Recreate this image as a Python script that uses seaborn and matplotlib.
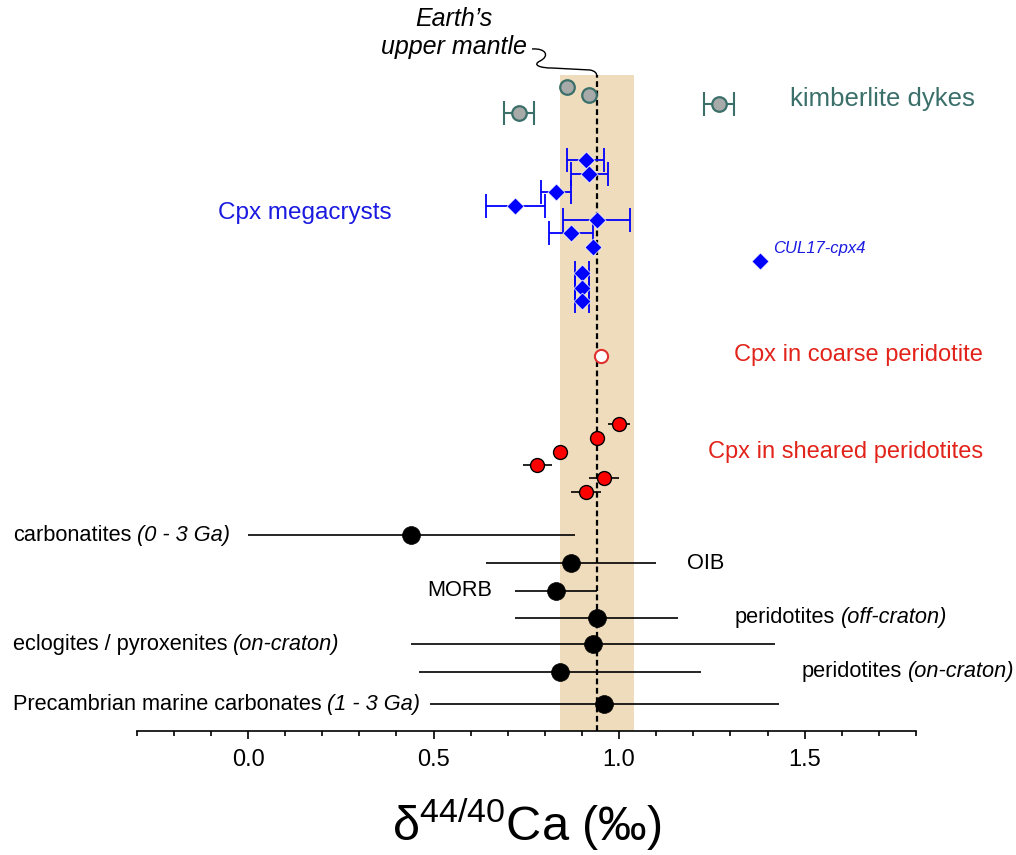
import numpy as np
import pandas as pd
import matplotlib
matplotlib.use("Agg")
import matplotlib.pyplot as plt
import seaborn as sns
from matplotlib.path import Path
from matplotlib.patches import PathPatch
from matplotlib.ticker import MultipleLocator

# ---------------- data ----------------
# vertical "row" position of each sample (arbitrary units, increasing downwards)
kimb_x = [0.86, 0.92, 0.73, 1.27]
kimb_err = [0.0, 0.0, 0.04, 0.04]
kimb_row = [8.67, 9.50, 11.33, 10.43]

cpx_x = [0.91, 0.92, 0.83, 0.72, 0.94, 0.87, 0.93, 0.90, 0.90, 0.90]
cpx_err = [0.05, 0.05, 0.04, 0.08, 0.09, 0.06, 0.0, 0.02, 0.02, 0.02]
cpx_row = [16.0, 17.4, 19.23, 20.57, 22.0, 23.33, 24.73, 27.33, 28.83, 30.07]

cul_x = [1.38]
cul_row = [26.1]

coarse_x = [0.95]
coarse_row = [35.6]

sheared_x = [1.00, 0.94, 0.84, 0.78, 0.96, 0.91]
sheared_err = [0.03, 0.0, 0.0, 0.04, 0.04, 0.04]
sheared_row = [42.43, 43.77, 45.17, 46.5, 47.83, 49.23]

lit_names = ["carbonatites", "OIB", "MORB", "peridotites", "eclogites / pyroxenites",
             "peridotites", "Precambrian marine carbonates"]
lit_notes = ["(0 - 3 Ga)", "", "", "(off-craton)", "(on-craton)", "(on-craton)", "(1 - 3 Ga)"]
lit_x = [0.44, 0.87, 0.83, 0.94, 0.93, 0.84, 0.96]
lit_err = [0.44, 0.23, 0.11, 0.22, 0.49, 0.38, 0.47]
lit_row = [53.5, 56.33, 59.07, 61.77, 64.43, 67.17, 70.4]

mantle_mean = 0.94
mantle_sd = 0.10

xticks = [0.0, 0.5, 1.0, 1.5]

# ---------------- style ----------------
sns.set_style("white")
plt.rcParams["font.family"] = ["Liberation Sans", "DejaVu Sans"]
plt.rcParams["mathtext.fontset"] = "custom"
plt.rcParams["mathtext.rm"] = "Liberation Sans"
plt.rcParams["mathtext.it"] = "Liberation Sans:italic"
plt.rcParams["text.color"] = "black"
plt.rcParams["axes.labelcolor"] = "black"
plt.rcParams["xtick.color"] = "black"

W, H = 1016, 855
fig = plt.figure(figsize=(W / 100, H / 100), dpi=100)
ax = fig.add_axes([136.7 / W, 1 - 731 / H, (916 - 136.7) / W, (731 - 75) / H])

TEAL = "#3a6f6a"
BLUE = "#0000ff"
BLUE_TXT = "#1a1ae0"
RED = "#ff0000"
RED_TXT = "#e2231a"

# mantle band + mean line
ax.axvspan(mantle_mean - mantle_sd, mantle_mean + mantle_sd, color="#eedcbc", lw=0, zorder=0)
ax.axvline(mantle_mean, color="black", lw=1.6, ls=(0, (2.6, 1.6)), zorder=1)


def draw_group(x, row, err, color, ecolor, marker, s, ec, lw, capsize, elw):
    df = pd.DataFrame({"x": x, "row": row, "err": err})
    e = df[df["err"] > 0]
    if len(e):
        ax.errorbar(e["x"], e["row"], xerr=e["err"], fmt="none", ecolor=ecolor,
                    elinewidth=elw, capsize=capsize, capthick=elw, zorder=3)
    sns.scatterplot(data=df, x="x", y="row", ax=ax, marker=marker, s=s, color=color,
                    edgecolor=ec, linewidth=lw, zorder=4, legend=False)


draw_group(kimb_x, kimb_row, kimb_err, "#a8aaa9", TEAL, "o", 110, TEAL, 1.6, 8.5, 1.5)
draw_group(cpx_x, cpx_row, cpx_err, BLUE, BLUE, "D", 75, "white", 0.5, 8.5, 1.3)
draw_group(cul_x, cul_row, [0.0], BLUE, BLUE, "D", 75, "white", 0.5, 0, 1.3)
draw_group(coarse_x, coarse_row, [0.0], "white", RED, "o", 90, "#e03030", 1.5, 0, 1.2)
draw_group(sheared_x, sheared_row, sheared_err, RED, "black", "o", 100, "black", 1.0, 0, 1.2)
draw_group(lit_x, lit_row, lit_err, "black", "black", "o", 165, "black", 0.5, 0, 1.2)

# group labels
ax.text(1.46, 9.9, "kimberlite dykes", color=TEAL, fontsize=18.5, ha="left", va="center")
ax.text(-0.082, 21.3, "Cpx megacrysts", color=BLUE_TXT, fontsize=17.5, ha="left", va="center")
ax.text(1.414, 24.9, "CUL17-cpx4", color=BLUE_TXT, fontsize=12, style="italic",
        ha="left", va="center")
ax.text(1.98, 35.5, "Cpx in coarse peridotite", color=RED_TXT, fontsize=17,
        ha="right", va="center", clip_on=False)
ax.text(1.98, 45.2, "Cpx in sheared peridotites", color=RED_TXT, fontsize=17,
        ha="right", va="center", clip_on=False)

# literature labels
lab_pos = [(-0.634, 53.5), (1.182, 56.3), (0.484, 59.0), (1.312, 61.7),
           (-0.634, 64.4), (1.492, 67.1), (-0.634, 70.4)]
for name, note, (lx, ly) in zip(lit_names, lit_notes, lab_pos):
    t = ax.text(lx, ly, name, fontsize=15.7, ha="left", va="center", clip_on=False)
    if note:
        ax.annotate(note, xy=(1, 0), xycoords=t, xytext=(4, 0), textcoords="offset points",
                    fontsize=15.7, style="italic", ha="left", va="bottom",
                    annotation_clip=False)

# Earth's upper mantle annotation
fig.text(454 / W, 1 - 33 / H, "Earth\u2019s\nupper mantle", ha="center", va="center",
         fontsize=18, style="italic", linespacing=1.2)
pts = [(532, 49), (546, 48), (550, 56), (540, 61), (532, 65), (540, 68), (552, 68),
       (590, 70), (595, 71), (597, 73), (597, 77)]
codes = [Path.MOVETO, Path.CURVE4, Path.CURVE4, Path.CURVE4, Path.CURVE4, Path.CURVE4,
         Path.CURVE4, Path.LINETO, Path.CURVE4, Path.CURVE4, Path.CURVE4]
verts = [(px / W, 1 - py / H) for px, py in pts]
fig.patches.append(PathPatch(Path(verts, codes), transform=fig.transFigure,
                             fill=False, lw=1.0, color="black"))

# axes styling
ax.set_xlim(-0.3, 1.8)
ax.set_ylim(73.1, 7.5)
ax.set_xticks(xticks)
ax.set_xticklabels([f"{v:.1f}" for v in xticks])
ax.xaxis.set_minor_locator(MultipleLocator(0.1))
ax.set_yticks([])
ax.set_ylabel("")
for side in ["top", "right", "left"]:
    ax.spines[side].set_visible(False)
ax.spines["bottom"].set_linewidth(1.2)
ax.spines["bottom"].set_color("black")
ax.tick_params(axis="x", which="major", direction="out", length=6, width=1.2,
               labelsize=17, pad=7, bottom=True, color="black", labelcolor="black")
ax.tick_params(axis="x", which="minor", direction="out", length=3.5, width=1.2,
               bottom=True, color="black")
ax.set_xlabel("\u03b4$^{44/40}$Ca (\u2030)", fontsize=35, labelpad=18, color="black")
ax.patch.set_alpha(0)

fig.savefig("out.png", dpi=100)
